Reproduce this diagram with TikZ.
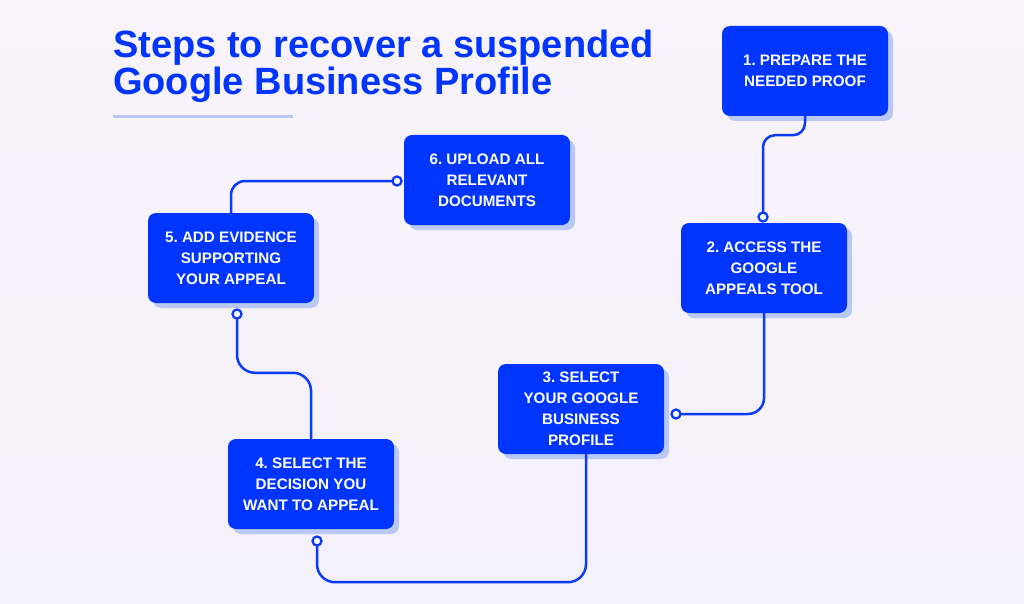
\documentclass[tikz,border=0pt]{standalone}
\usepackage{fontspec}
\setmainfont{Liberation Sans}
\usetikzlibrary{shadows,calc}
\definecolor{bgtop}{RGB}{249,243,251}
\definecolor{bgbot}{RGB}{243,241,250}
\definecolor{mainblue}{RGB}{0,52,255}
\definecolor{lineblue}{RGB}{10,58,250}
\definecolor{shadowc}{RGB}{186,200,244}
\definecolor{rulec}{RGB}{184,200,242}
\begin{document}
\frenchspacing
\begin{tikzpicture}[x=1pt,y=-1pt,
  stepbox/.style={rectangle, rounded corners=8pt, fill=mainblue, minimum width=166pt, minimum height=90pt,
    text=white, font=\fontsize{15.2}{21}\selectfont\bfseries, align=center, inner sep=0pt,
    drop shadow={shadow xshift=5pt, shadow yshift=-5pt, fill=shadowc, opacity=1}},
  conn/.style={draw=lineblue, line width=2.5pt},
  dot/.style={circle, draw=lineblue, line width=2.3pt, fill=white, minimum size=9pt, inner sep=0pt},
  titletext/.style={anchor=base west, text=mainblue, font=\fontsize{38}{38}\selectfont\bfseries, inner sep=0pt}]
\useasboundingbox (0,0) rectangle (1024,604);
\shade[top color=bgtop, bottom color=bgbot] (0,0) rectangle (1024,604);

% title
\node[titletext] (t1) at (113,58) {Steps to recover a suspended};
\node[titletext] (t2) at (113,95) {Google Business Profile};
\fill[rulec] (113,115.5) rectangle (293,118.5);

% boxes
\node[stepbox] (b1) at (805,71)  {1. PREPARE THE\\NEEDED PROOF};
\node[stepbox] (b2) at (764,268) {2. ACCESS THE\\GOOGLE\\APPEALS TOOL};
\node[stepbox] (b3) at (581,409) {3. SELECT\\YOUR GOOGLE\\BUSINESS\\PROFILE};
\node[stepbox] (b4) at (311,484) {4. SELECT THE\\DECISION YOU\\WANT TO APPEAL};
\node[stepbox] (b5) at (231,258) {5. ADD EVIDENCE\\SUPPORTING\\YOUR APPEAL};
\node[stepbox] (b6) at (487,180) {6. UPLOAD ALL\\RELEVANT\\DOCUMENTS};

% dots (positions)
\coordinate (p2) at (763,217);
\coordinate (p3) at (676,414);
\coordinate (p4) at (317,541);
\coordinate (p5) at (237,314);
\coordinate (p6) at (397,181);

% connectors
\draw[conn, rounded corners=12pt] (b1.south) -- ++(0,19) -| (p2);
\draw[conn, rounded corners=16pt] (b2.south) |- (p3);
\draw[conn, rounded corners=18pt] ([xshift=5pt]b3.south) -- ++(0,128) -| (p4);
\draw[conn, rounded corners=18pt] (b4.north) -- ++(0,-66) -| (p5);
\draw[conn, rounded corners=14pt] (b5.north) |- (p6);

\node[dot] (d2) at (p2) {};
\node[dot] (d3) at (p3) {};
\node[dot] (d4) at (p4) {};
\node[dot] (d5) at (p5) {};
\node[dot] (d6) at (p6) {};
\end{tikzpicture}
\end{document}
